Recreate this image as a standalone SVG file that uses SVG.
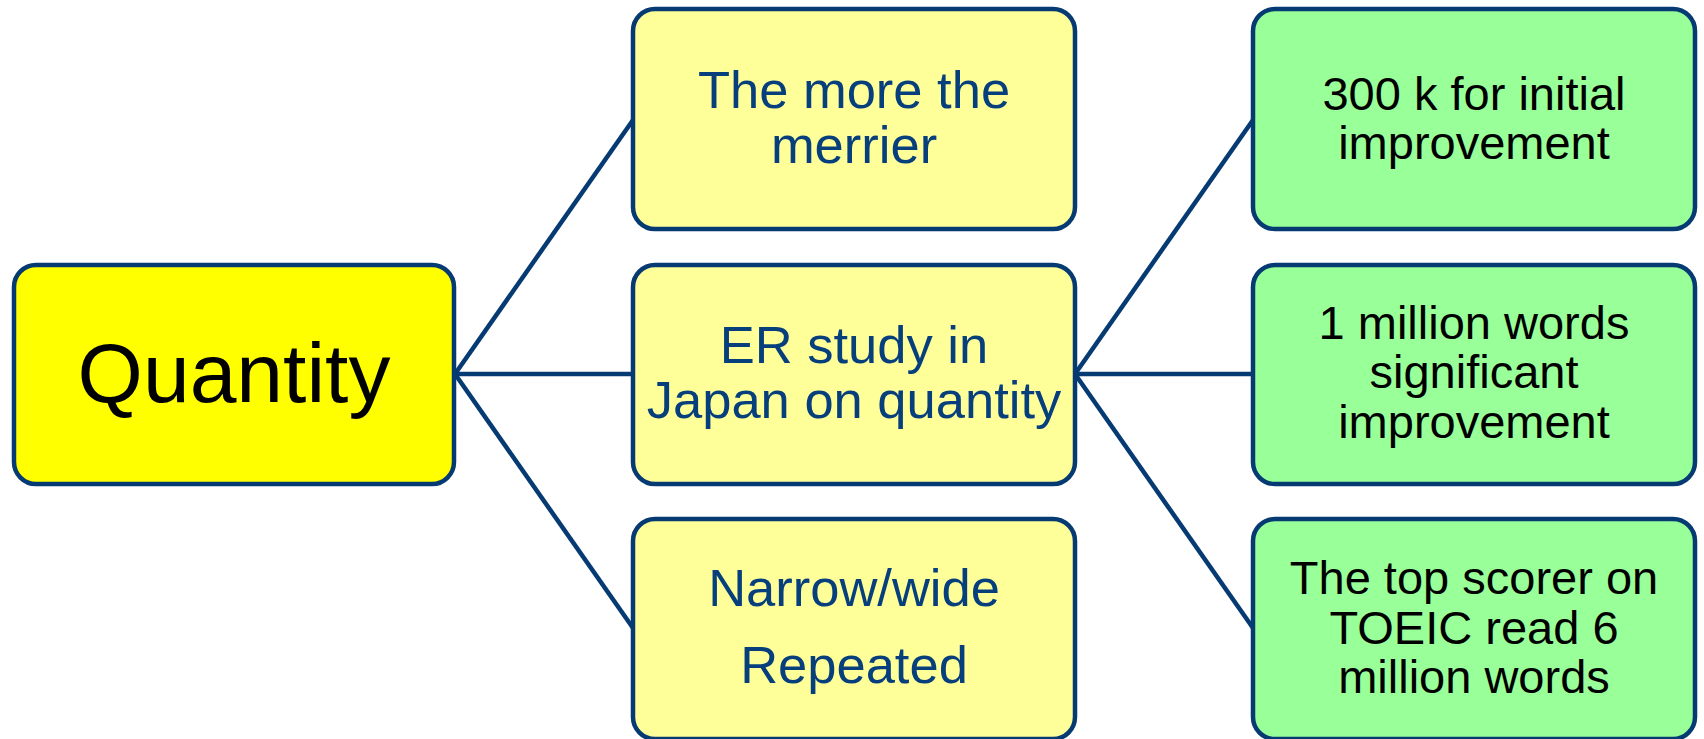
<svg xmlns="http://www.w3.org/2000/svg" width="1704" height="739" viewBox="0 0 1704 739">
<style>
.box{stroke:#063a73;stroke-width:4.5}
.root{fill:#ffff00}
.mid{fill:#ffff99}
.leaf{fill:#99ff99}
.conn{stroke:#063a73;stroke-width:4.5;fill:none}
text{font-family:"Liberation Sans",Arial,sans-serif;text-anchor:middle}
.tm{fill:#063f7c;font-size:52.5px}
.tl{fill:#000;font-size:47px}
.tr{fill:#000;font-size:84px}
</style>
<rect width="1704" height="739" fill="#ffffff"/>
<g id="connectors">
<line class="conn" x1="455" y1="374" x2="633" y2="120"/>
<line class="conn" x1="455" y1="374" x2="633" y2="374"/>
<line class="conn" x1="455" y1="374" x2="633" y2="628"/>
<line class="conn" x1="1075" y1="374" x2="1253" y2="120"/>
<line class="conn" x1="1075" y1="374" x2="1253" y2="374"/>
<line class="conn" x1="1075" y1="374" x2="1253" y2="628"/>
</g>
<g id="quantity">
<rect class="box root" x="14" y="265" width="440" height="219" rx="22"/>
<text class="tr" x="234" y="402">Quantity</text>
</g>
<g id="more-merrier">
<rect class="box mid" x="633" y="9" width="442" height="220" rx="22"/>
<text class="tm" x="854" y="108">The more the</text>
<text class="tm" x="854" y="163">merrier</text>
</g>
<g id="er-study">
<rect class="box mid" x="633" y="265" width="442" height="219" rx="22"/>
<text class="tm" x="854" y="363">ER study in</text>
<text class="tm" x="854" y="418">Japan on quantity</text>
</g>
<g id="narrow-wide">
<rect class="box mid" x="633" y="519" width="442" height="220" rx="22"/>
<text class="tm" x="854" y="606">Narrow/wide</text>
<text class="tm" x="854" y="683">Repeated</text>
</g>
<g id="300k">
<rect class="box leaf" x="1253" y="9" width="442" height="220" rx="22"/>
<text class="tl" x="1474" y="110">300 k for initial</text>
<text class="tl" x="1474" y="159">improvement</text>
</g>
<g id="1million">
<rect class="box leaf" x="1253" y="265" width="442" height="219" rx="22"/>
<text class="tl" x="1474" y="339">1 million words</text>
<text class="tl" x="1474" y="388">significant</text>
<text class="tl" x="1474" y="438">improvement</text>
</g>
<g id="top-scorer">
<rect class="box leaf" x="1253" y="519" width="442" height="220" rx="22"/>
<text class="tl" x="1474" y="594">The top scorer on</text>
<text class="tl" x="1474" y="644">TOEIC read 6</text>
<text class="tl" x="1474" y="693">million words</text>
</g>
</svg>
